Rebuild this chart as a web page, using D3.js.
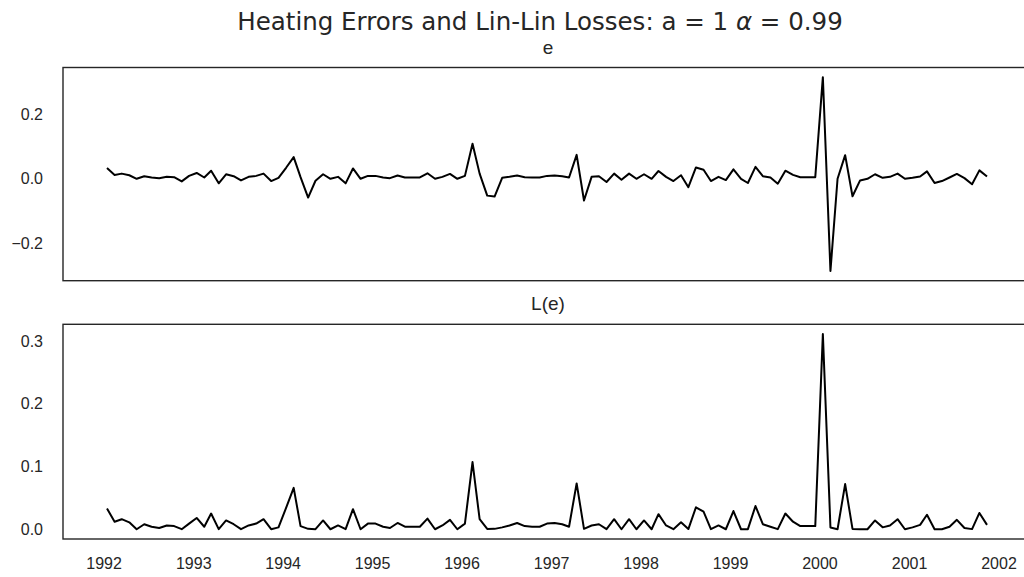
<!DOCTYPE html>
<html lang="en">
<head>
<meta charset="UTF-8">
<title>Heating Errors and Lin-Lin Losses</title>
<script src="https://d3js.org/d3.v7.min.js"></script>
<style>
    body { margin: 0; background-color: white; }
    text { font-family: 'Liberation Sans', Arial, sans-serif; fill: #262626; }
</style>
</head>
<body>
<div id="chart"></div>
<script>
// monthly heating errors e, Jan 1992 .. Nov 2001
const errors = [
    0.033, 0.012, 0.016, 0.011, 0.000, 0.008, 0.004, 0.002, 0.006, 0.005, -0.008, 0.009,
    0.018, 0.004, 0.025, -0.014, 0.014, 0.008, -0.005, 0.006, 0.009, 0.016, -0.007, 0.003,
    0.034, 0.067, 0.005, -0.058, -0.006, 0.014, 0.000, 0.006, -0.014, 0.032, 0.000, 0.009,
    0.009, 0.004, 0.002, 0.010, 0.004, 0.004, 0.004, 0.017, 0.000, 0.006, 0.015, 0.000,
    0.009, 0.108, 0.016, -0.052, -0.055, 0.003, 0.006, 0.010, 0.005, 0.004, 0.004, 0.009,
    0.010, 0.008, 0.004, 0.074, -0.067, 0.006, 0.008, -0.010, 0.016, -0.003, 0.016, 0.000,
    0.014, 0.000, 0.024, 0.006, -0.007, 0.011, -0.026, 0.035, 0.028, -0.007, 0.006, -0.004,
    0.029, 0.000, -0.013, 0.037, 0.008, 0.004, -0.015, 0.025, 0.012, 0.005, 0.005, 0.005,
    0.314, -0.285, 0.000, 0.073, -0.054, -0.005, 0.000, 0.014, 0.003, 0.006, 0.016, 0.000,
    0.003, 0.007, 0.023, -0.013, -0.007, 0.004, 0.015, 0.002, -0.017, 0.026, 0.007
];
// lin-lin losses L(e), same months
const losses = [
    0.033, 0.012, 0.016, 0.011, 0.000, 0.008, 0.004, 0.002, 0.006, 0.005, 0.0001, 0.009,
    0.018, 0.004, 0.025, 0.0001, 0.014, 0.008, 0.0001, 0.006, 0.009, 0.016, 0.0001, 0.003,
    0.034, 0.066, 0.005, 0.0006, 0.0001, 0.014, 0.000, 0.006, 0.0001, 0.032, 0.000, 0.009,
    0.009, 0.004, 0.002, 0.010, 0.004, 0.004, 0.004, 0.017, 0.000, 0.006, 0.015, 0.000,
    0.009, 0.107, 0.016, 0.0005, 0.0006, 0.003, 0.006, 0.010, 0.005, 0.004, 0.004, 0.009,
    0.010, 0.008, 0.004, 0.073, 0.0007, 0.006, 0.008, 0.0001, 0.016, 0.000, 0.016, 0.000,
    0.014, 0.000, 0.024, 0.006, 0.0001, 0.011, 0.0003, 0.035, 0.028, 0.0001, 0.006, 0.000,
    0.029, 0.000, 0.0001, 0.037, 0.008, 0.004, 0.0002, 0.025, 0.012, 0.005, 0.005, 0.005,
    0.311, 0.0029, 0.000, 0.072, 0.0005, 0.0001, 0.000, 0.014, 0.003, 0.006, 0.016, 0.000,
    0.003, 0.007, 0.023, 0.0001, 0.0001, 0.004, 0.015, 0.002, 0.0002, 0.026, 0.007
];
const yearTicks = [1992, 1993, 1994, 1995, 1996, 1997, 1998, 1999, 2000, 2001, 2002];
const errorTicks = [-0.2, 0.0, 0.2];
const lossTicks = [0.0, 0.1, 0.2, 0.3];
const panelTitles = ["e", "L(e)"];

const width = 1024, height = 577;
const left = 63, right = 1031;   // right edge of the axes sits past the picture edge

const dates = errors.map((d, i) => new Date(1992, i, 15));
const span = dates[dates.length - 1] - dates[0];
const x = d3.scaleTime()
    .domain([new Date(+dates[0] - 0.05 * span), new Date(+dates[dates.length - 1] + 0.05 * span)])
    .range([left, right]);

const svg = d3.select("#chart")
    .append("svg")
        .attr("width", width)
        .attr("height", height);

// suptitle
const title = svg.append("text")
    .attr("x", 540)
    .attr("y", 30)
    .attr("text-anchor", "middle")
    .style("font-family", "'DejaVu Sans', sans-serif")
    .style("font-size", "24.5px");
title.append("tspan").text("Heating Errors and Lin-Lin Losses: a = 1 ");
title.append("tspan")
    .style("font-style", "italic")
    .text("\u03b1");
title.append("tspan").text(" = 0.99");

function panel(values, ticks, name, top, bottom, showX) {
    const lo = d3.min(values), hi = d3.max(values), pad = 0.05 * (hi - lo);
    const y = d3.scaleLinear().domain([lo - pad, hi + pad]).range([bottom, top]);

    const g = svg.append("g");

    g.append("text")
        .attr("x", 548)
        .attr("y", top - 14)
        .attr("text-anchor", "middle")
        .style("font-size", "19px")
        .text(name);

    const yAxis = g.append("g")
        .attr("transform", `translate(${left},0)`)
        .call(d3.axisLeft(y).tickValues(ticks).tickSize(0).tickPadding(20).tickFormat(d3.format(".1f")));
    yAxis.select(".domain").remove();
    yAxis.selectAll("text").style("font-size", "16px").attr("fill", "#262626");

    if (showX) {
        const xAxis = g.append("g")
            .attr("transform", `translate(0,${bottom})`)
            .call(d3.axisBottom(x)
                .tickValues(yearTicks.map(yr => new Date(yr, 0, 1)))
                .tickSize(0).tickPadding(19)
                .tickFormat(d3.timeFormat("%Y")));
        xAxis.select(".domain").remove();
        xAxis.selectAll("text").style("font-size", "16px").attr("fill", "#262626");
    }

    g.append("path")
        .datum(values)
        .attr("fill", "none")
        .attr("stroke", "black")
        .attr("stroke-width", 2)
        .attr("stroke-linejoin", "round")
        .attr("d", d3.line().x((d, i) => x(dates[i])).y(d => y(d)));

    g.append("rect")
        .attr("x", left)
        .attr("y", top)
        .attr("width", right - left)
        .attr("height", bottom - top)
        .attr("fill", "none")
        .attr("stroke", "#262626")
        .attr("stroke-width", 1.4);
}

panel(errors, errorTicks, panelTitles[0], 67.5, 280.7, false);
panel(losses, lossTicks, panelTitles[1], 324.3, 539, true);
</script>
</body>
</html>
